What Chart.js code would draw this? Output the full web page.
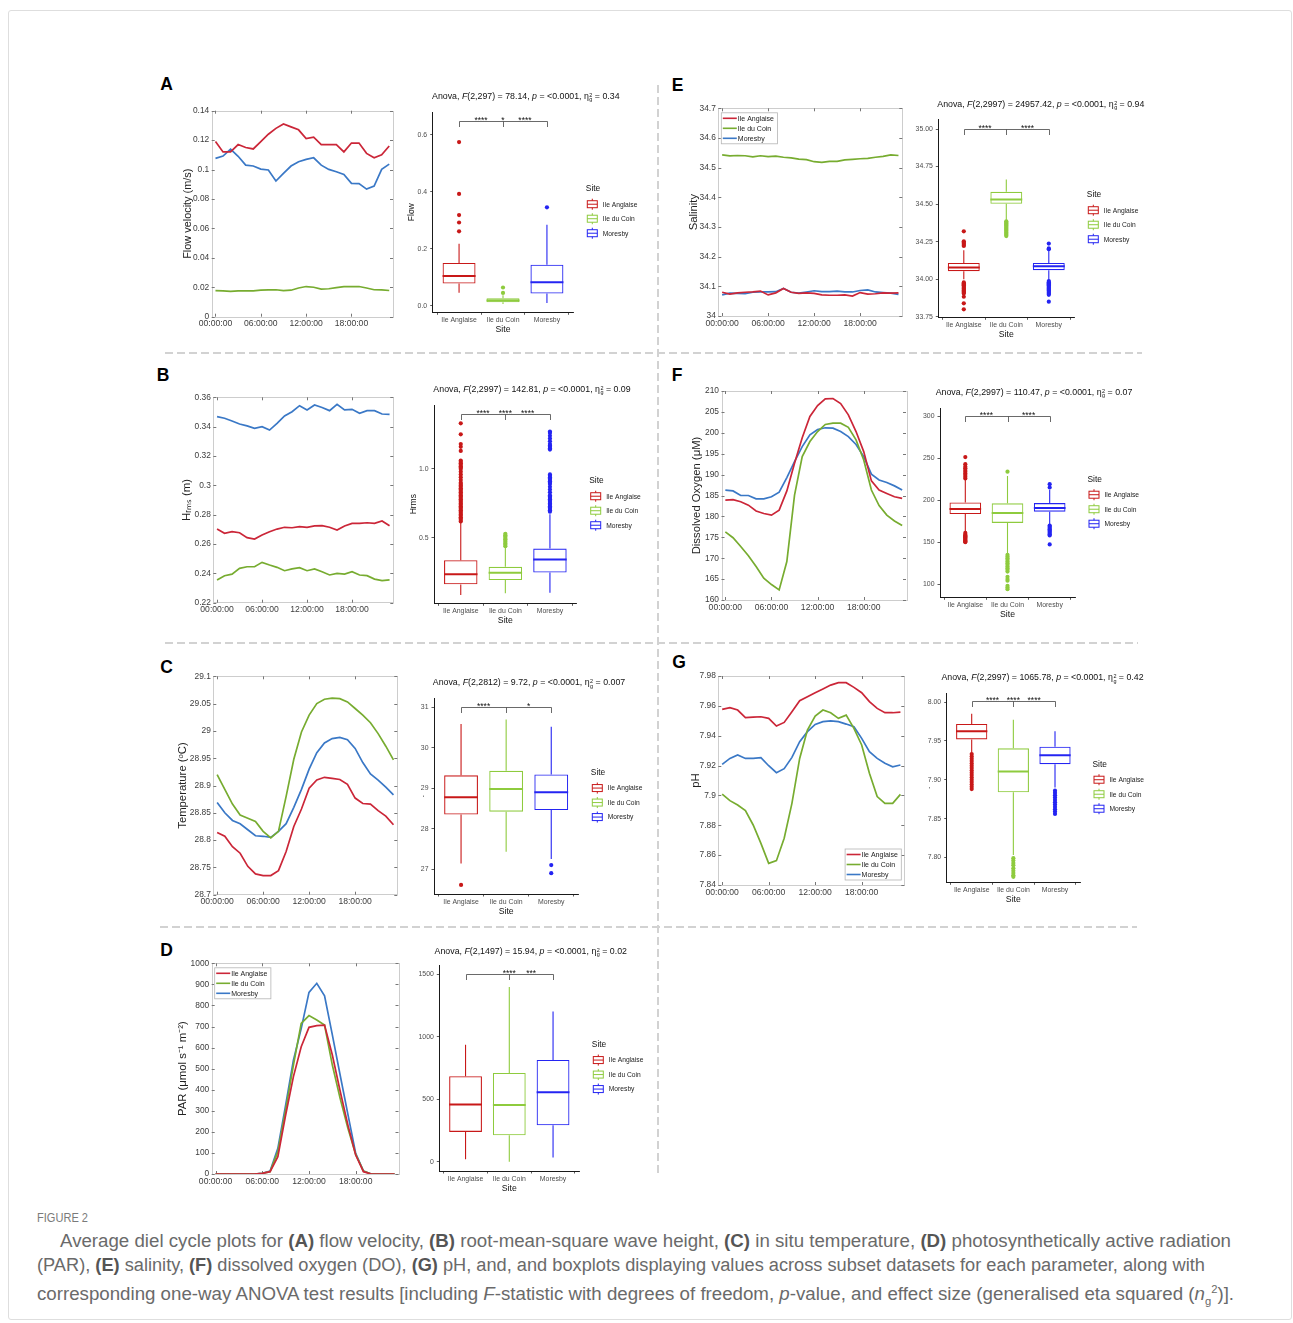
<!DOCTYPE html>
<html>
<head>
<meta charset="utf-8">
<script src="https://cdn.jsdelivr.net/npm/chart.js@4.4.1/dist/chart.umd.min.js"></script>
<style>
html,body{margin:0;padding:0;background:#fff;}
#fig{position:relative;width:1293px;height:1323px;overflow:hidden;font-family:"Liberation Sans",Arial,sans-serif;}
.frame{position:absolute;left:8px;top:10px;width:1284px;height:1310px;border:1px solid #dedede;border-radius:3px;box-sizing:border-box;}
canvas{position:absolute;}
.letter{position:absolute;font:bold 17.5px "Liberation Sans",Arial,sans-serif;color:#000;transform:translate(-50%,-50%);line-height:1;}
.anova{position:absolute;font:8.8px "Liberation Sans",Arial,sans-serif;color:#111;white-space:nowrap;transform:translate(-50%,-50%);line-height:1;}
.ss{display:inline-block;vertical-align:-0.45em;font-size:0.62em;line-height:0.8em;text-align:left;margin-left:0.5px;}
.ss span{display:block;}
.hd{position:absolute;height:2px;background:repeating-linear-gradient(to right,#d2d2d2 0 8px,transparent 8px 12px);}
.vd{position:absolute;width:2px;background:repeating-linear-gradient(to bottom,#d2d2d2 0 8px,transparent 8px 12px);}
.capt{position:absolute;font:13.5px "Liberation Sans",Arial,sans-serif;color:#7a7a7a;white-space:nowrap;line-height:16px;transform-origin:0 50%;}
.capline{position:absolute;font:16.5px "Liberation Sans",Arial,sans-serif;color:#6a6a6a;white-space:nowrap;line-height:24px;}
.capline b{color:#555;}
</style>
</head>
<body>
<div id="fig">
<div class="frame"></div>
<div class="vd" style="left:657px;top:85px;height:1092px"></div>
<div class="hd" style="left:165px;top:352px;width:977px"></div>
<div class="hd" style="left:165px;top:642px;width:973px"></div>
<div class="hd" style="left:160px;top:926px;width:977px"></div>

<div class="letter" style="left:166.5px;top:85px">A</div>
<div class="letter" style="left:163px;top:376px">B</div>
<div class="letter" style="left:166.5px;top:668px">C</div>
<div class="letter" style="left:166.5px;top:951px">D</div>
<div class="letter" style="left:677.5px;top:86px">E</div>
<div class="letter" style="left:677px;top:376px">F</div>
<div class="letter" style="left:679px;top:663px">G</div>

<div class="capt" id="figlabel" style="left:37px;top:1210px">FIGURE 2</div>
<div class="capline" data-w="1172" style="left:60px;top:1229px">Average diel cycle plots for <b>(A)</b> flow velocity, <b>(B)</b> root-mean-square wave height, <b>(C)</b> in situ temperature, <b>(D)</b> photosynthetically active radiation</div>
<div class="capline" data-w="1169" style="left:37px;top:1253px">(PAR), <b>(E)</b> salinity, <b>(F)</b> dissolved oxygen (DO), <b>(G)</b> pH, and, and boxplots displaying values across subset datasets for each parameter, along with</div>
<div class="capline" data-w="1197" style="left:37px;top:1277px">corresponding one-way ANOVA test results [including <i>F</i>-statistic with degrees of freedom, <i>p</i>-value, and effect size (generalised eta squared (<i>n</i><sub style="font-size:0.6em">g</sub><sup style="font-size:0.6em">2</sup>)].</div>
</div>

<script>
// ---------------- DATA ----------------
const HOURS = [0,1,2,3,4,5,6,7,8,9,10,11,12,13,14,15,16,17,18,19,20,21,22,23];
const SITES = ['Ile Anglaise','Ile du Coin','Moresby'];
const TIME_TICKS = [0,6,12,18];
const TIME_LABELS = ['00:00:00','06:00:00','12:00:00','18:00:00'];

// (A) flow velocity (m/s)
const FLOW_ANGLAISE = [0.119,0.112,0.112,0.117,0.115,0.114,0.119,0.124,0.128,0.131,0.129,0.127,0.121,0.122,0.117,0.117,0.117,0.112,0.118,0.118,0.111,0.108,0.110,0.116];
const FLOW_COIN = [0.0177,0.0176,0.0172,0.0175,0.0175,0.0175,0.0180,0.0182,0.0183,0.0177,0.0180,0.0195,0.0205,0.0200,0.0188,0.0190,0.0197,0.0205,0.0205,0.0205,0.0195,0.0183,0.0182,0.0178];
const FLOW_MORESBY = [0.1076,0.1092,0.1139,0.1090,0.1030,0.1024,0.1003,0.0997,0.0922,0.0974,0.1024,0.1053,0.1069,0.1080,0.1030,0.1001,0.0985,0.0967,0.0906,0.0904,0.0867,0.0888,0.1001,0.1037];
const FLOW_BOX = [[0.046,0.078,0.104,0.150,0.217],[0.006,0.012,0.018,0.026,0.037],[0.010,0.043,0.082,0.144,0.284]];
const FLOW_OUTLIERS = [[0.261,0.292,0.318,0.392,0.574],[0.045,0.064],[0.345]];
const FLOW_BOX_TICKS = [0,0.2,0.4,0.6];
const FLOW_BRACKET = 0.649;
const FLOW_STARS = ['****','*','****'];
const FLOW_STAR_AT = [0.5,1,1.5];
const FLOW_ANOVA = ['2,297','78.14','<0.0001','0.34'];

// (B) Hrms (m)
const HRMS_ANGLAISE = [0.2702,0.2673,0.2684,0.2677,0.2643,0.2634,0.2661,0.2684,0.2702,0.2714,0.2711,0.2718,0.2714,0.2723,0.2725,0.2714,0.2695,0.2723,0.2741,0.2741,0.2745,0.2741,0.2757,0.2725];
const HRMS_COIN = [0.2355,0.2384,0.2395,0.2434,0.2445,0.2445,0.2475,0.2457,0.2441,0.2418,0.2430,0.2439,0.2418,0.2430,0.2411,0.2389,0.2400,0.2395,0.2411,0.2389,0.2384,0.2361,0.2350,0.2355];
const HRMS_MORESBY = [0.3468,0.3457,0.3439,0.3418,0.3405,0.3389,0.3400,0.3377,0.3423,0.3473,0.3502,0.3543,0.3514,0.3548,0.3530,0.3509,0.3552,0.3514,0.3518,0.3491,0.3509,0.3509,0.3486,0.3484];
const HRMS_BOX = [[0.087,0.164,0.238,0.339,0.612],[0.099,0.195,0.248,0.291,0.428],[0.103,0.250,0.344,0.423,0.672]];
const HRMS_OUTLIERS = [
  [0.62,0.63,0.64,0.65,0.66,0.67,0.68,0.69,0.70,0.71,0.72,0.73,0.74,0.75,0.76,0.77,0.78,0.79,0.80,0.81,0.82,0.83,0.84,0.85,0.86,0.87,0.88,0.89,0.90,0.92,0.94,0.96,0.98,1.00,1.01,1.02,1.03,1.04,1.05,1.06,1.13,1.16,1.18,1.25,1.33],
  [0.44,0.45,0.46,0.47,0.48,0.49,0.50,0.51,0.52,0.53],
  [0.69,0.70,0.71,0.72,0.73,0.74,0.75,0.76,0.77,0.78,0.79,0.80,0.81,0.83,0.85,0.87,0.89,0.90,0.91,0.92,0.93,0.94,0.95,0.96,1.14,1.15,1.16,1.17,1.18,1.20,1.22,1.24,1.26,1.27]
];
const HRMS_BOX_TICKS = [0.5,1.0];
const HRMS_BRACKET = 1.397;
const HRMS_STARS = ['****','****','****'];
const HRMS_STAR_AT = [0.5,1,1.5];
const HRMS_ANOVA = ['2,2997','142.81','<0.0001','0.09'];

// (C) temperature (degC)
const TEMP_ANGLAISE = [28.814,28.807,28.788,28.776,28.752,28.738,28.735,28.735,28.744,28.779,28.825,28.857,28.895,28.910,28.915,28.913,28.911,28.902,28.877,28.867,28.866,28.854,28.844,28.828];
const TEMP_COIN = [28.920,28.893,28.866,28.846,28.840,28.834,28.816,28.804,28.816,28.880,28.948,28.998,29.029,29.050,29.058,29.060,29.059,29.053,29.041,29.029,29.015,28.995,28.972,28.947];
const TEMP_MORESBY = [28.869,28.850,28.836,28.830,28.819,28.808,28.807,28.805,28.816,28.830,28.860,28.893,28.930,28.960,28.978,28.986,28.988,28.984,28.968,28.942,28.921,28.910,28.897,28.883];
const TEMP_BOX = [[27.14,28.35,28.775,29.32,30.59],[27.43,28.42,28.98,29.43,30.70],[27.25,28.46,28.90,29.34,30.52]];
const TEMP_OUTLIERS = [[26.61],[],[27.10,26.90]];
const TEMP_BOX_TICKS = [27,28,29,30,31];
const TEMP_BRACKET = 31.0;
const TEMP_STARS = ['****','*'];
const TEMP_STAR_AT = [0.5,1.5];
const TEMP_ANOVA = ['2,2812','9.72','<0.0001','0.007'];

// (D) PAR (umol s-1 m-2)
const PAR_ANGLAISE = [0,0,0,0,0,0,3,11,82,280,462,604,696,704,707,565,394,232,90,11,0,0,0,0];
const PAR_COIN = [0,0,0,0,0,0,3,11,106,304,517,715,752,731,707,517,359,217,93,14,0,0,0,0];
const PAR_MORESBY = [0,0,0,0,0,0,3,14,122,327,540,690,862,905,846,660,470,283,98,14,0,0,0,0];
const PAR_BOX = [[21,239,459,685,937],[0,212,454,711,1399],[35,292,557,815,1203]];
const PAR_OUTLIERS = [[],[],[]];
const PAR_BOX_TICKS = [0,500,1000,1500];
const PAR_BRACKET = 1500;
const PAR_STARS = ['****','***'];
const PAR_STAR_AT = [1,1.5];
const PAR_ANOVA = ['2,1497','15.94','<0.0001','0.02'];

// (E) salinity
const SAL_ANGLAISE = [34.080,34.074,34.078,34.080,34.081,34.084,34.071,34.078,34.093,34.080,34.076,34.078,34.076,34.071,34.070,34.070,34.071,34.067,34.079,34.074,34.075,34.078,34.077,34.078];
const SAL_COIN = [34.543,34.540,34.541,34.540,34.536,34.540,34.537,34.539,34.535,34.533,34.529,34.527,34.520,34.518,34.521,34.521,34.526,34.528,34.530,34.531,34.535,34.538,34.543,34.541];
const SAL_MORESBY = [34.071,34.077,34.076,34.075,34.080,34.081,34.081,34.082,34.093,34.080,34.077,34.081,34.085,34.082,34.082,34.084,34.081,34.081,34.086,34.088,34.081,34.079,34.077,34.073];
const SAL_BOX = [[34.000,34.053,34.077,34.108,34.192],[34.392,34.502,34.531,34.582,34.664],[33.993,34.060,34.086,34.108,34.195]];
const SAL_OUTLIERS = [
  [34.221,34.228,34.236,34.244,34.252,34.319,33.978,33.972,33.966,33.960,33.954,33.948,33.942,33.936,33.930,33.924,33.918,33.912,33.905,33.883,33.839,33.799],
  [34.385,34.378,34.371,34.364,34.357,34.350,34.343,34.336,34.329,34.322,34.315,34.308,34.301,34.294,34.287],
  [34.237,34.205,34.200,33.987,33.980,33.973,33.966,33.959,33.952,33.945,33.938,33.931,33.924,33.917,33.910,33.903,33.896,33.850]
];
const SAL_BOX_TICKS = [33.75,34.00,34.25,34.50,34.75,35.00];
const SAL_BRACKET = 35.0;
const SAL_STARS = ['****','****'];
const SAL_STAR_AT = [0.5,1.5];
const SAL_ANOVA = ['2,2997','24957.42','<0.0001','0.94'];

// (F) dissolved oxygen (uM)
const DO_ANGLAISE = [183.9,184.0,183.5,182.7,181.3,180.7,180.3,181.5,186.1,192.7,198.8,203.9,206.5,208.1,208.2,207.0,204.3,200.3,195.5,188.5,186.3,185.5,184.7,184.3];
const DO_COIN = [176.3,174.9,172.8,170.6,168.0,165.2,163.7,162.4,169.2,185.1,194.3,197.9,200.3,202.0,202.3,202.3,201.3,198.3,193.5,186.3,182.6,180.3,178.9,177.8];
const DO_MORESBY = [186.3,186.1,185.0,185.0,184.2,184.2,184.7,185.8,189.3,193.1,196.7,199.5,200.8,201.2,201.1,200.3,199.1,197.2,194.3,190.1,188.7,188.1,187.3,186.3];
const DO_BOX = [[161.9,183.6,189.5,197.4,225.8],[137.0,173.0,184.8,196.3,229.0],[170.6,186.4,190.7,196.6,212.4]];
const DO_OUTLIERS = [
  [226,228,230,232,234,236,238,240,243,251.5,161,159,158,157,156,155,154,153,152,151,150],
  [234.1,135,133,131,129,127,125,123,121,119,117,115,108.7,106,104,98,96,94],
  [215.2,219.1,169.8,168.5,167,165.5,164,162.5,161,159.5,158,147.3]
];
const DO_BOX_TICKS = [100,150,200,250,300];
const DO_BRACKET = 300;
const DO_STARS = ['****','****'];
const DO_STAR_AT = [0.5,1.5];
const DO_ANOVA = ['2,2997','110.47','<0.0001','0.07'];

// (G) pH
const PH_ANGLAISE = [7.9576,7.9588,7.9572,7.9521,7.9525,7.9527,7.9516,7.9465,7.9489,7.9561,7.9634,7.9661,7.9688,7.9713,7.9739,7.9755,7.9755,7.9724,7.9688,7.9628,7.9583,7.9554,7.9554,7.9558];
const PH_COIN = [7.9009,7.8965,7.8936,7.8898,7.8802,7.8679,7.8545,7.8563,7.8713,7.8947,7.9248,7.9438,7.9532,7.9572,7.9554,7.9516,7.9538,7.9449,7.9338,7.9148,7.8992,7.8947,7.8947,7.9007];
const PH_MORESBY = [7.9208,7.9248,7.9271,7.9248,7.9248,7.9253,7.9199,7.9152,7.9179,7.9255,7.9360,7.9427,7.9476,7.9494,7.9500,7.9494,7.9478,7.9460,7.9382,7.9293,7.9248,7.9215,7.9192,7.9204];
const PH_BOX = [[7.9349,7.9519,7.9626,7.9719,7.9851],[7.8030,7.8838,7.9106,7.9404,7.9774],[7.8900,7.9200,7.9315,7.9426,7.9626]];
const PH_OUTLIERS = [
  [7.933,7.930,7.927,7.924,7.921,7.918,7.915,7.912,7.909,7.906,7.903,7.900,7.897,7.894,7.891,7.888],
  [7.799,7.796,7.793,7.790,7.786,7.783,7.780,7.777,7.775],
  [7.886,7.883,7.880,7.877,7.874,7.871,7.868,7.865,7.862,7.859,7.856]
];
const PH_BOX_TICKS = [7.80,7.85,7.90,7.95,8.00];
const PH_BRACKET = 8.0009;
const PH_STARS = ['****','****','****'];
const PH_STAR_AT = [0.5,1,1.5];
const PH_ANOVA = ['2,2997','1065.78','<0.0001','0.42'];

// ---------------- STYLE ----------------
const LINE_COLORS = ['#CB2638','#77AC30','#3A78C6'];
const BOX_COLORS = ['#C81818','#8ECB3E','#2424F2'];
const FONT = '"Liberation Sans", Arial, sans-serif';
Chart.defaults.font.family = FONT;
const FIG = document.getElementById('fig');

function makeCanvas(L, T, W, H) {
  const c = document.createElement('canvas');
  c.width = W; c.height = H;
  c.style.left = L + 'px'; c.style.top = T + 'px';
  c.style.width = W + 'px'; c.style.height = H + 'px';
  FIG.appendChild(c);
  return c;
}
function stepTicks(min, max, step) {
  const out = []; const n = Math.round((max - min) / step);
  for (let i = 0; i <= n; i++) out.push(+(min + i * step).toFixed(6));
  return out;
}
function fmt(v) { return String(parseFloat((+v).toFixed(4))); }

// frame with inward ticks (line charts)
const framePlugin = {
  id: 'frame',
  beforeDatasetsDraw(chart) {
    const {ctx, chartArea: a, scales: {x, y}} = chart;
    ctx.save();
    ctx.strokeStyle = '#cdcdcd'; ctx.lineWidth = 1;
    ctx.strokeRect(Math.round(a.left) + 0.5, Math.round(a.top) + 0.5, Math.round(a.right - a.left), Math.round(a.bottom - a.top));
    ctx.strokeStyle = '#777'; ctx.beginPath();
    y.ticks.forEach(t => {
      const py = Math.round(y.getPixelForValue(t.value)) + 0.5;
      ctx.moveTo(a.left, py); ctx.lineTo(a.left + 3, py);
      ctx.moveTo(a.right, py); ctx.lineTo(a.right - 3, py);
    });
    x.ticks.forEach(t => {
      const px = Math.round(x.getPixelForValue(t.value)) + 0.5;
      ctx.moveTo(px, a.bottom); ctx.lineTo(px, a.bottom - 3);
      ctx.moveTo(px, a.top); ctx.lineTo(px, a.top + 3);
    });
    ctx.stroke(); ctx.restore();
  }
};

// legend inside a line chart
const lineLegendPlugin = {
  id: 'lineLegend',
  afterDatasetsDraw(chart, args, opts) {
    if (!opts || !opts.corner) return;
    const {ctx, chartArea: a} = chart;
    ctx.save();
    ctx.font = '7px ' + FONT;
    const labels = chart.data.datasets.map(d => d.label);
    const tw = Math.max(...labels.map(l => ctx.measureText(l).width));
    const rowH = 10, w = 18 + tw + 2, h = rowH * labels.length + 1;
    const bx = opts.corner === 'tl' ? a.left + 2.5 : a.right - 3.5 - w;
    const by = opts.corner === 'tl' ? a.top + 4 : a.bottom - 5.5 - h;
    ctx.fillStyle = '#fff'; ctx.fillRect(bx, by, w, h);
    ctx.strokeStyle = '#b5b5b5'; ctx.lineWidth = 0.8; ctx.strokeRect(bx + 0.5, by + 0.5, w, h);
    labels.forEach((l, i) => {
      const cy = by + 1 + rowH * (i + 0.5);
      ctx.strokeStyle = chart.data.datasets[i].borderColor; ctx.lineWidth = 1.6;
      ctx.beginPath(); ctx.moveTo(bx + 2, cy); ctx.lineTo(bx + 16, cy); ctx.stroke();
      ctx.fillStyle = '#1a1a1a'; ctx.textBaseline = 'middle'; ctx.textAlign = 'left';
      ctx.fillText(l, bx + 17, cy + 0.5);
    });
    ctx.restore();
  }
};

// significance bracket and stars (box charts)
const sigPlugin = {
  id: 'sig',
  afterDatasetsDraw(chart, args, opts) {
    const {ctx, scales: {x, y}} = chart;
    const by = Math.round(y.getPixelForValue(opts.level)) + 0.5;
    const xs = [0, 1, 2].map(i => Math.round(x.getPixelForValue(i)) + 0.5);
    ctx.save();
    ctx.strokeStyle = '#444'; ctx.lineWidth = 0.8;
    ctx.beginPath();
    ctx.moveTo(xs[0], by + 5.5); ctx.lineTo(xs[0], by); ctx.lineTo(xs[2], by); ctx.lineTo(xs[2], by + 5.5);
    ctx.moveTo(xs[1], by); ctx.lineTo(xs[1], by + 5.5);
    ctx.stroke();
    ctx.fillStyle = '#111'; ctx.font = '8.5px ' + FONT;
    ctx.textAlign = 'center'; ctx.textBaseline = 'alphabetic';
    opts.labels.forEach((l, i) => ctx.fillText(l, x.getPixelForValue(opts.at[i]), by + 1.5));
    ctx.restore();
  }
};

// "Site" legend beside box charts
const siteLegendPlugin = {
  id: 'siteLegend',
  afterDraw(chart) {
    const {ctx, chartArea: a} = chart;
    const mid = (a.top + a.bottom) / 2, x0 = a.right + 12.5;
    ctx.save();
    ctx.fillStyle = '#111'; ctx.font = '8.4px ' + FONT; ctx.textBaseline = 'middle'; ctx.textAlign = 'left';
    ctx.fillText('Site', x0, mid - 23.5);
    SITES.forEach((s, i) => {
      const cy = mid - 8 + i * 14.5;
      const c = BOX_COLORS[i];
      ctx.strokeStyle = c; ctx.lineWidth = 1;
      ctx.strokeRect(x0 + 1.5, cy - 3.5, 10, 7);
      ctx.beginPath();
      ctx.moveTo(x0 + 1.5, cy); ctx.lineTo(x0 + 11.5, cy);
      ctx.moveTo(x0 + 6.5, cy - 3.5); ctx.lineTo(x0 + 6.5, cy - 5.5);
      ctx.moveTo(x0 + 6.5, cy + 3.5); ctx.lineTo(x0 + 6.5, cy + 5.5);
      ctx.stroke();
      ctx.fillStyle = '#222'; ctx.font = '6.7px ' + FONT;
      ctx.fillText(s, x0 + 17, cy + 0.5);
    });
    ctx.restore();
  }
};

function lineChart(p) {
  const [bl, bt, br, bb] = p.box;
  const L = Math.round(bl - 60), T = Math.round(bt - 12);
  const R = Math.round(br + 8), B = Math.round(bb + 24);
  const padL = bl - L, padT = bt - T, padR = R - br, padB = B - bb;
  const cv = makeCanvas(L, T, R - L, B - T);
  const titleSize = p.titleSize || 11.3;
  const lh = titleSize * 1.2;
  const yTicks = stepTicks(p.yMin, p.yMax, p.yStep);
  new Chart(cv, {
    type: 'line',
    data: {
      datasets: p.series.map((s, i) => ({
        label: SITES[i],
        data: s.map((v, k) => ({x: HOURS[k], y: v})),
        borderColor: LINE_COLORS[i], borderWidth: 1.7,
        pointRadius: 0, tension: 0, fill: false
      }))
    },
    options: {
      responsive: false, animation: false, events: [],
      layout: {padding: {left: 0, top: padT, right: padR, bottom: 0}},
      plugins: {legend: {display: false}, tooltip: {enabled: false}, lineLegend: {corner: p.legend || null}},
      scales: {
        x: {
          type: 'linear', min: -0.5, max: 23.5, offset: false,
          grid: {display: false, drawTicks: false}, border: {display: false},
          afterBuildTicks: s => { s.ticks = TIME_TICKS.map(v => ({value: v})); },
          ticks: {callback: v => TIME_LABELS[TIME_TICKS.indexOf(v)], font: {size: 8.6}, color: '#3c3c3c', padding: 2, maxRotation: 0, autoSkip: false},
          afterFit: s => { s.height = padB; }
        },
        y: {
          type: 'linear', min: p.yMin, max: p.yMax,
          grid: {display: false, drawTicks: false}, border: {display: false},
          afterBuildTicks: s => { s.ticks = yTicks.map(v => ({value: v})); },
          ticks: {callback: v => fmt(v), font: {size: 8.4}, color: '#3c3c3c', padding: 2.5, autoSkip: false},
          title: {display: true, text: p.yTitle, font: {size: titleSize}, color: '#222', padding: {top: (p.titleX - L) - lh / 2, bottom: 0}},
          afterFit: s => { s.width = padL; }
        }
      }
    },
    plugins: [framePlugin, lineLegendPlugin]
  });
}

function boxChart(p) {
  const [al, at, ar, ab] = p.axes;
  const L = Math.round(al - 40), T = Math.round(at - 6);
  const R = Math.round(ar + 78), B = Math.round(ab + 24);
  const padL = al - L, padT = at - T, padR = R - ar, padB = B - ab;
  const cv = makeCanvas(L, T, R - L, B - T);
  const HALF = 0.375;
  const ds = [];
  ds.push({
    type: 'bar', label: 'box',
    data: p.stats.map((s, i) => ({x: i, y: [s[1], s[3]]})),
    backgroundColor: 'rgba(255,255,255,0)', borderColor: BOX_COLORS, borderWidth: 1.1,
    borderSkipped: false, grouped: false, barPercentage: 0.75, categoryPercentage: 1, order: 3
  });
  p.stats.forEach((s, i) => {
    ds.push({
      type: 'line', label: 'whisker' + i,
      data: [{x: i, y: s[0]}, {x: i, y: s[1]}, {x: i, y: null}, {x: i, y: s[3]}, {x: i, y: s[4]}],
      borderColor: BOX_COLORS[i], borderWidth: 1.1, pointRadius: 0, spanGaps: false, order: 2
    });
    ds.push({
      type: 'line', label: 'median' + i,
      data: [{x: i - HALF, y: s[2]}, {x: i + HALF, y: s[2]}],
      borderColor: BOX_COLORS[i], borderWidth: 2, pointRadius: 0, order: 1
    });
    ds.push({
      type: 'scatter', label: 'out' + i,
      data: p.out[i].map(v => ({x: i, y: v})),
      pointRadius: 2.1, pointBackgroundColor: BOX_COLORS[i], pointBorderWidth: 0, showLine: false, order: 0
    });
  });
  const ytl = 8.5 * 1.2;
  new Chart(cv, {
    type: 'bar',
    data: {datasets: ds},
    options: {
      responsive: false, animation: false, events: [],
      layout: {padding: {left: 0, top: padT, right: padR, bottom: 0}},
      plugins: {
        legend: {display: false}, tooltip: {enabled: false},
        sig: {level: p.bracket, labels: p.stars, at: p.starAt}
      },
      scales: {
        x: {
          type: 'linear', min: -0.6, max: 2.6, offset: false,
          grid: {display: true, drawOnChartArea: false, drawTicks: true, tickLength: 2.5, color: '#333', lineWidth: 0.8},
          border: {display: true, color: '#1a1a1a', width: 1},
          afterBuildTicks: s => { s.ticks = [0, 1, 2].map(v => ({value: v})); },
          ticks: {callback: v => SITES[v], font: {size: 6.9}, color: '#4d4d4d', padding: 1.4, maxRotation: 0, autoSkip: false},
          title: {display: true, text: 'Site', font: {size: 8.7}, color: '#111', padding: {top: 0, bottom: 6.5 - ytl / 2}},
          afterFit: s => { s.height = padB; }
        },
        y: {
          type: 'linear', min: p.yMin, max: p.yMax, beginAtZero: false,
          grid: {display: true, drawOnChartArea: false, drawTicks: true, tickLength: 2.5, color: '#333', lineWidth: 0.8},
          border: {display: true, color: '#1a1a1a', width: 1},
          afterBuildTicks: s => { s.ticks = p.ticks.map(v => ({value: v})); },
          ticks: {callback: v => (+v).toFixed(p.dec), font: {size: 6.9}, color: '#4d4d4d', padding: 3, autoSkip: false},
          title: {display: !!p.yTitle, text: p.yTitle || '', font: {size: 8.5}, color: '#111', padding: {top: p.yTitleX ? (p.yTitleX - L) - ytl / 2 : 0, bottom: 0}},
          afterFit: s => { s.width = padL; }
        }
      }
    },
    plugins: [sigPlugin, siteLegendPlugin]
  });
}

function anova(a, cx, cy) {
  const d = document.createElement('div');
  d.className = 'anova';
  d.style.left = cx + 'px'; d.style.top = cy + 'px';
  d.innerHTML = 'Anova, <i>F</i>(' + a[0] + ') = ' + a[1] + ', <i>p</i> = ' + a[2].replace('<', '&lt;') +
    ', η<span class="ss"><span>2</span><span>g</span></span> = ' + a[3];
  FIG.appendChild(d);
}

// ---------------- PANELS ----------------
const LINE_PANELS = [
  {series: [FLOW_ANGLAISE, FLOW_COIN, FLOW_MORESBY], yMin: 0, yMax: 0.14, yStep: 0.02, yTitle: 'Flow velocity (m/s)', titleSize: 10.9, box: [211.7, 110.7, 393, 316.7], titleX: 187.8},
  {series: [HRMS_ANGLAISE, HRMS_COIN, HRMS_MORESBY], yMin: 0.22, yMax: 0.36, yStep: 0.02, yTitle: 'Hᵣₘₛ (m)', box: [213.3, 397.3, 393.3, 602.7], titleX: 186.5},
  {series: [TEMP_ANGLAISE, TEMP_COIN, TEMP_MORESBY], yMin: 28.7, yMax: 29.1, yStep: 0.05, yTitle: 'Temperature (ᵒC)', box: [213.3, 676.3, 397.3, 894.7], titleX: 183.3},
  {series: [PAR_ANGLAISE, PAR_COIN, PAR_MORESBY], yMin: 0, yMax: 1000, yStep: 100, yTitle: 'PAR (μmol s⁻¹ m⁻²)', box: [211.7, 963.3, 398.5, 1174], titleX: 183.3, legend: 'tl'},
  {series: [SAL_ANGLAISE, SAL_COIN, SAL_MORESBY], yMin: 34, yMax: 34.7, yStep: 0.1, yTitle: 'Salinity', box: [718.3, 108.3, 902.3, 316], titleX: 694.3, legend: 'tl'},
  {series: [DO_ANGLAISE, DO_COIN, DO_MORESBY], yMin: 160, yMax: 210, yStep: 5, yTitle: 'Dissolved Oxygen (μM)', box: [721.5, 391, 906, 600], titleX: 696.7},
  {series: [PH_ANGLAISE, PH_COIN, PH_MORESBY], yMin: 7.84, yMax: 7.98, yStep: 0.02, yTitle: 'pH', box: [718.3, 676, 904.3, 885], titleX: 695.7, legend: 'br'}
];
const BOX_PANELS = [
  {stats: FLOW_BOX, out: FLOW_OUTLIERS, ticks: FLOW_BOX_TICKS, dec: 1, yMin: -0.023, yMax: 0.679, bracket: FLOW_BRACKET, stars: FLOW_STARS, starAt: FLOW_STAR_AT, axes: [432.7, 110.7, 573.3, 312.3], yTitle: 'Flow', yTitleX: 411.7, anova: FLOW_ANOVA, title: [525.8, 97]},
  {stats: HRMS_BOX, out: HRMS_OUTLIERS, ticks: HRMS_BOX_TICKS, dec: 1, yMin: 0.027, yMax: 1.4615, bracket: HRMS_BRACKET, stars: HRMS_STARS, starAt: HRMS_STAR_AT, axes: [434, 404.3, 576.7, 603.3], yTitle: 'Hrms', yTitleX: 414, anova: HRMS_ANOVA, title: [532, 390]},
  {stats: TEMP_BOX, out: TEMP_OUTLIERS, ticks: TEMP_BOX_TICKS, dec: 0, yMin: 26.386, yMax: 31.228, bracket: TEMP_BRACKET, stars: TEMP_STARS, starAt: TEMP_STAR_AT, axes: [434, 696.7, 578.3, 894], yTitle: '.', yTitleX: 421.7, anova: TEMP_ANOVA, title: [529, 683.3]},
  {stats: PAR_BOX, out: PAR_OUTLIERS, ticks: PAR_BOX_TICKS, dec: 0, yMin: -74, yMax: 1574, bracket: PAR_BRACKET, stars: PAR_STARS, starAt: PAR_STAR_AT, axes: [439.3, 964, 579.3, 1171], anova: PAR_ANOVA, title: [530.8, 951.7]},
  {stats: SAL_BOX, out: SAL_OUTLIERS, ticks: SAL_BOX_TICKS, dec: 2, yMin: 33.746, yMax: 35.066, bracket: SAL_BRACKET, stars: SAL_STARS, starAt: SAL_STAR_AT, axes: [938.3, 118.3, 1074.3, 317.3], anova: SAL_ANOVA, title: [1040.8, 105]},
  {stats: DO_BOX, out: DO_OUTLIERS, ticks: DO_BOX_TICKS, dec: 0, yMin: 84.3, yMax: 309.8, bracket: DO_BRACKET, stars: DO_STARS, starAt: DO_STAR_AT, axes: [940, 406.7, 1075, 597.3], anova: DO_ANOVA, title: [1034, 393]},
  {stats: PH_BOX, out: PH_OUTLIERS, ticks: PH_BOX_TICKS, dec: 2, yMin: 7.768, yMax: 8.0115, bracket: PH_BRACKET, stars: PH_STARS, starAt: PH_STAR_AT, axes: [946.7, 691.7, 1080, 882.3], yTitle: '.', yTitleX: 928, anova: PH_ANOVA, title: [1042.5, 678.3]}
];

LINE_PANELS.forEach(lineChart);
BOX_PANELS.forEach(p => { boxChart(p); anova(p.anova, p.title[0], p.title[1]); });

// fit caption lines to their measured widths in the reference
document.querySelectorAll('.capline').forEach(el => {
  const w = el.getBoundingClientRect().width;
  const fs = parseFloat(getComputedStyle(el).fontSize);
  el.style.fontSize = (fs * (+el.dataset.w) / w).toFixed(2) + 'px';
});
(function () {
  const el = document.getElementById('figlabel');
  const w = el.getBoundingClientRect().width;
  el.style.transform = 'scaleX(' + (51 / w).toFixed(3) + ')';
})();
</script>
</body>
</html>
